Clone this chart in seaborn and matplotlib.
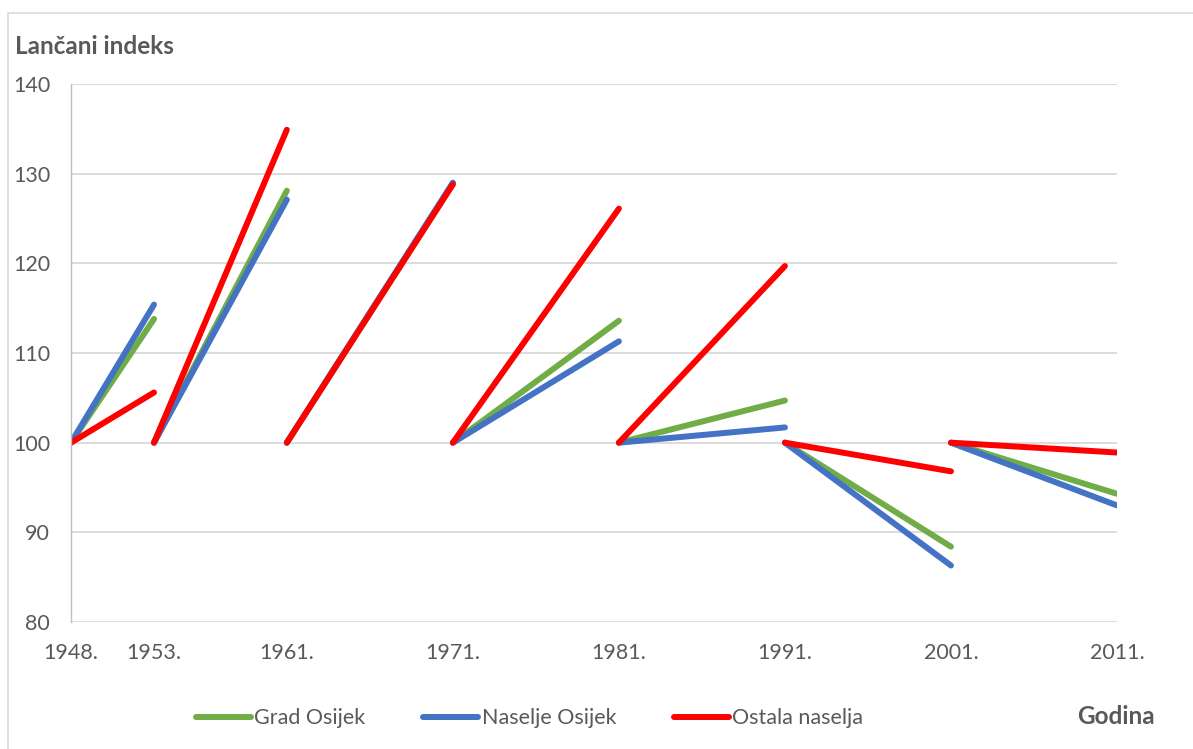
import pandas as pd
import matplotlib.pyplot as plt
import seaborn as sns
from matplotlib.patches import Rectangle

# Data: chain index (previous census = 100)
years = [1948, 1953, 1961, 1971, 1981, 1991, 2001, 2011]
year_labels = ['1948.', '1953.', '1961.', '1971.', '1981.', '1991.', '2001.', '2011.']
grad_osijek = [113.8, 128.1, 128.9, 113.6, 104.7, 88.4, 94.3]
naselje_osijek = [115.4, 127.1, 129.0, 111.3, 101.7, 86.3, 93.0]
ostala_naselja = [105.6, 134.9, 128.8, 126.1, 119.7, 96.8, 98.9]
series_names = ['Grad Osijek', 'Naselje Osijek', 'Ostala naselja']
colors = ['#70AD47', '#4472C4', '#FF0000']

# Build segments: each period starts at 100 and ends at the index value
rows = []
for name, vals in zip(series_names, [grad_osijek, naselje_osijek, ostala_naselja]):
    for i, v in enumerate(vals):
        rows.append({'Godina': years[i], 'Indeks': 100, 'Serija': name, 'Segment': i})
        rows.append({'Godina': years[i + 1], 'Indeks': v, 'Serija': name, 'Segment': i})
df = pd.DataFrame(rows)

sns.set_theme(style="white")
plt.rcParams['font.family'] = ['Lato', 'DejaVu Sans']
text_color = '#595959'

fig = plt.figure(figsize=(11.93, 7.49), dpi=100)
ax = fig.add_axes([71 / 1193, 1 - 622 / 749, (1117 - 71) / 1193, (622 - 84) / 749])

sns.lineplot(data=df, x='Godina', y='Indeks', hue='Serija', units='Segment',
             estimator=None, sort=False, hue_order=series_names,
             palette=colors, linewidth=4.3, solid_capstyle='round', ax=ax)

ax.set_xlim(1948, 2011)
ax.set_ylim(80, 140)
ax.set_yticks(range(80, 141, 10))
ax.set_xticks(years)
ax.set_xticklabels(year_labels)
ax.set_xlabel('')
ax.set_ylabel('')
ax.grid(axis='y', color='#D9D9D9', linewidth=1.3)
ax.set_axisbelow(True)
for s in ['top', 'right', 'bottom']:
    ax.spines[s].set_visible(False)
ax.spines['left'].set_color('#BFBFBF')
ax.spines['left'].set_linewidth(1.0)
ax.tick_params(axis='y', length=0, pad=15, labelsize=15.5, labelcolor=text_color)
ax.tick_params(axis='x', length=0, pad=15, labelsize=15.5, labelcolor=text_color)

handles, labels = ax.get_legend_handles_labels()
ax.get_legend().remove()
fig.legend(handles, labels, loc='center', bbox_to_anchor=(0.444, 0.041), ncol=3,
           frameon=False, fontsize=15.5, handlelength=2.55, handletextpad=0.15,
           columnspacing=2.7, labelcolor=text_color)

fig.text(15 / 1193, 1 - 47 / 749, 'Lančani indeks', fontsize=17.5, fontweight='bold',
         color=text_color, va='center', ha='left')
fig.text(1077 / 1193, 1 - 716 / 749, 'Godina', fontsize=17.5, fontweight='bold',
         color=text_color, va='center', ha='left')

fig.patches.append(Rectangle((8 / 1193, -0.1), 2, 1 - 13 / 749 + 0.1, transform=fig.transFigure,
                             fill=False, edgecolor='#D9D9D9', linewidth=1.2))

fig.savefig('out.png', dpi=100)
